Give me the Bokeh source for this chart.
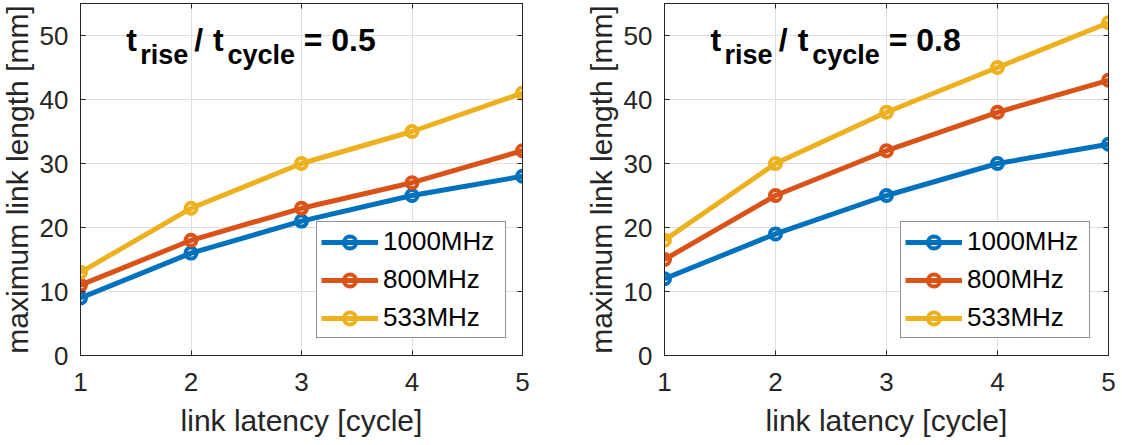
from bokeh.plotting import figure
from bokeh.models import LinearAxis, FixedTicker, Range1d, Legend, LegendItem, Label
from bokeh.layouts import row
from bokeh.embed import file_html
from bokeh.resources import INLINE

# ---------------- data ----------------
latency = [1, 2, 3, 4, 5]
series_names = ["1000MHz", "800MHz", "533MHz"]
series_colors = ["#0072BD", "#D95319", "#EDB120"]

left_1000 = [9, 16, 21, 25, 28]
left_800 = [11, 18, 23, 27, 32]
left_533 = [13, 23, 30, 35, 41]

right_1000 = [12, 19, 25, 30, 33]
right_800 = [15, 25, 32, 38, 43]
right_533 = [18, 30, 38, 45, 52]

ratios = ["0.5", "0.8"]
x_ticks = [1, 2, 3, 4, 5]
y_ticks = [0, 10, 20, 30, 40, 50]
x_label = "link latency [cycle]"
y_label = "maximum link length [mm]"

FONT = "Liberation Sans"
DARK = "#262626"


def make_panel(series, ratio, frame_w, b_left, b_right):
    p = figure(frame_width=frame_w, frame_height=352,
               x_range=Range1d(1, 5), y_range=Range1d(0, 55),
               output_backend="svg", toolbar_location=None,
               min_border_left=b_left, min_border_right=b_right,
               min_border_top=0, min_border_bottom=85,
               background_fill_color="white", border_fill_color="white")
    p.outline_line_color = DARK
    p.outline_line_width = 1

    for ax, ticks in ((p.xaxis[0], x_ticks), (p.yaxis[0], y_ticks)):
        ax.ticker = FixedTicker(ticks=ticks)
        ax.major_tick_in = 5
        ax.major_tick_out = 0
        ax.minor_tick_in = 0
        ax.minor_tick_out = 0
        ax.axis_line_color = DARK
        ax.major_tick_line_color = DARK
        ax.major_label_text_font = FONT
        ax.major_label_text_font_size = "26px"
        ax.major_label_text_color = DARK
        ax.axis_label_text_font = FONT
        ax.axis_label_text_font_size = "30px"
        ax.axis_label_text_font_style = "normal"
        ax.axis_label_text_color = DARK
    p.xaxis[0].axis_label = x_label
    p.yaxis[0].axis_label = y_label
    p.xaxis[0].major_label_standoff = 17
    p.xaxis[0].axis_label_standoff = 10
    p.yaxis[0].major_label_standoff = 12
    p.yaxis[0].axis_label_standoff = 3

    p.xgrid.ticker = FixedTicker(ticks=x_ticks)
    p.ygrid.ticker = FixedTicker(ticks=y_ticks)
    p.xgrid.grid_line_color = "#dedede"
    p.ygrid.grid_line_color = "#dedede"

    # mirrored ticks on top and right (box on), without labels
    for loc, ticks in (("above", x_ticks), ("right", y_ticks)):
        ax = LinearAxis(ticker=FixedTicker(ticks=ticks),
                        major_tick_in=5, major_tick_out=0,
                        minor_tick_in=0, minor_tick_out=0,
                        axis_line_color=DARK, major_tick_line_color=DARK,
                        major_label_text_font_size="1px",
                        major_label_text_color=None,
                        major_label_standoff=0)
        p.add_layout(ax, loc)

    items = []
    for name, color, ys in zip(series_names, series_colors, series):
        r1 = p.line(latency, ys, line_color=color, line_width=5)
        r2 = p.scatter(latency, ys, marker="circle", size=11,
                       fill_color=None, line_color=color, line_width=4)
        items.append(LegendItem(label=name, renderers=[r1, r2]))

    legend = Legend(items=items, location=(236, 17),
                    border_line_color=DARK, border_line_width=1,
                    background_fill_color="white", background_fill_alpha=1,
                    label_text_font=FONT, label_text_font_size="26px",
                    label_text_color="black",
                    glyph_width=57, glyph_height=30, label_height=30,
                    label_width=118, label_standoff=5,
                    spacing=7, padding=4, margin=0)
    p.add_layout(legend, "center")

    # annotation t_rise / t_cycle = ratio
    main_y, sub_y = 49.3, 47.0
    pieces = [("t", 1.414, main_y, "32px"),
              ("rise", 1.540, sub_y, "27px"),
              ("/", 2.030, main_y, "32px"),
              ("t", 2.200, main_y, "32px"),
              ("cycle", 2.330, sub_y, "27px"),
              ("= " + ratio, 3.020, main_y, "32px")]
    for txt, x, y, fs in pieces:
        p.add_layout(Label(x=x, y=y, text=txt, text_font=FONT,
                           text_font_size=fs, text_font_style="bold",
                           text_color="black", text_align="left",
                           text_baseline="alphabetic"))
    return p


p1 = make_panel([left_1000, left_800, left_533], ratios[0], 442, 79, 59)
p2 = make_panel([right_1000, right_800, right_533], ratios[1], 444, 79, 10)

layout = row(p1, p2, margin=(3, 0, 0, -3))

with open("out.html", "w") as f:
    f.write(file_html(layout, INLINE))
